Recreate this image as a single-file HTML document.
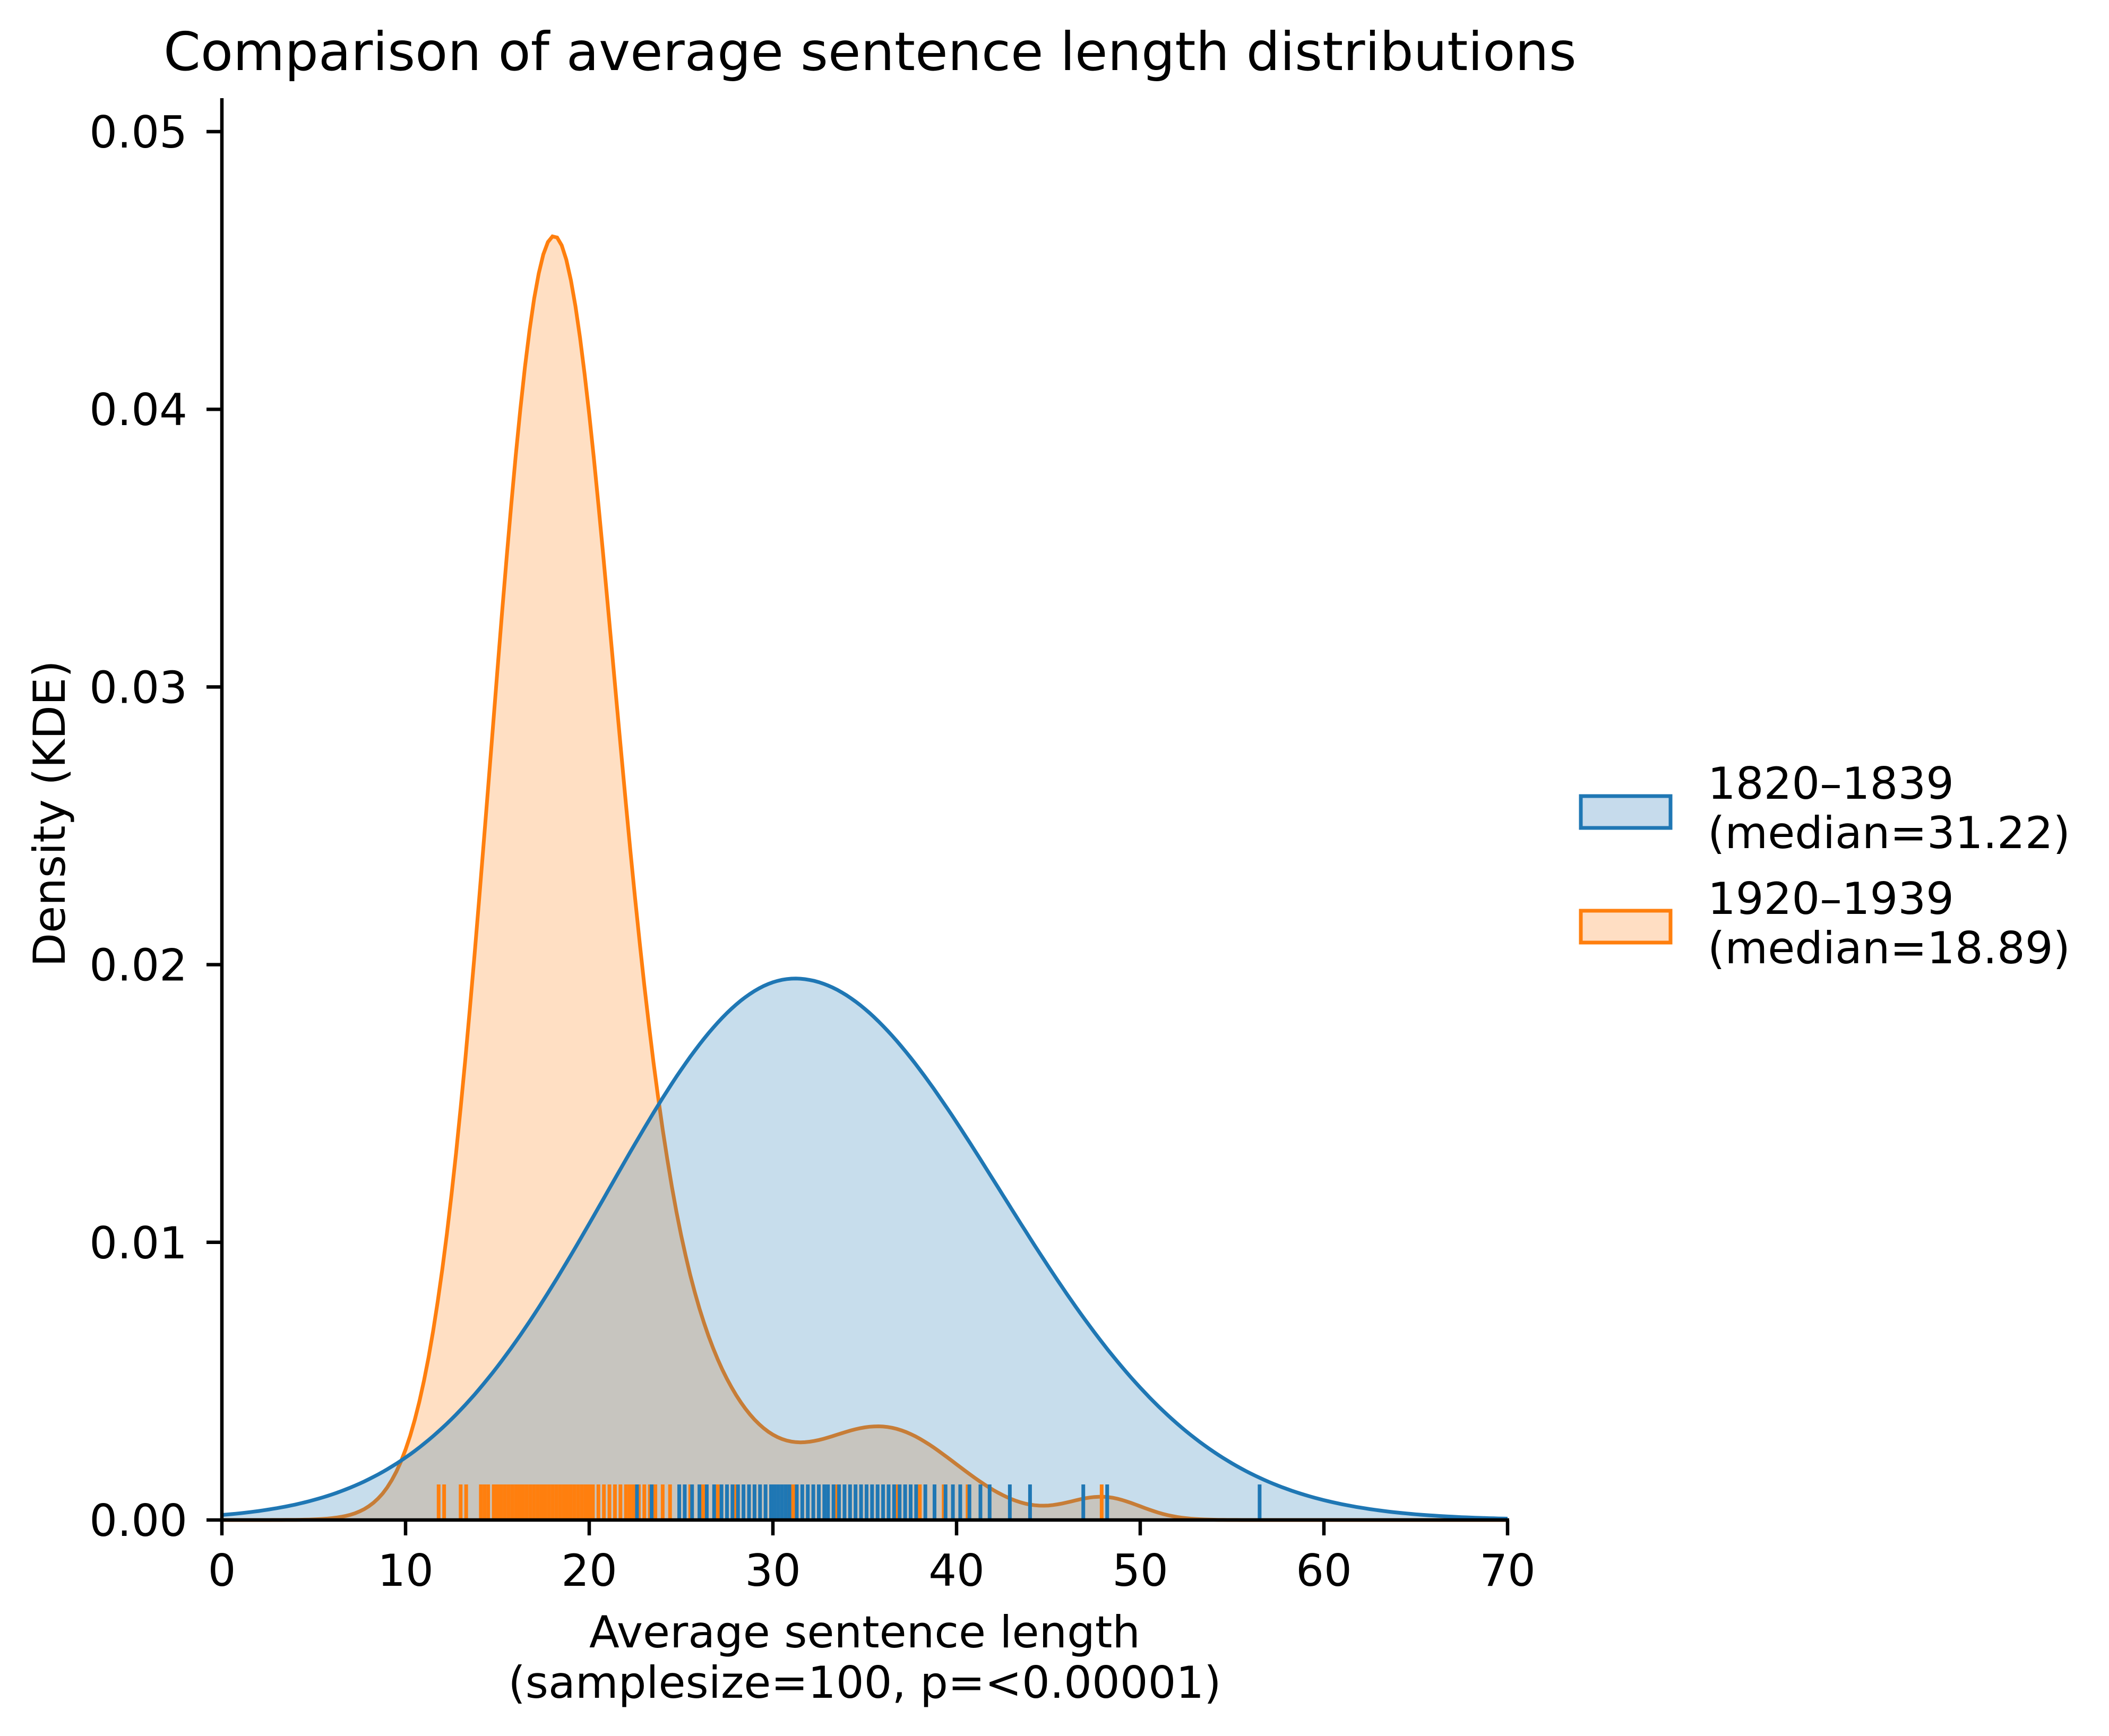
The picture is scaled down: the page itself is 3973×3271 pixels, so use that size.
<!DOCTYPE html>
<html><head><meta charset="utf-8">
<style>
html,body{margin:0;padding:0;background:#fff;}
svg{display:block;font-family:"DejaVu Sans","Liberation Sans",sans-serif;}
</style></head>
<body>
<svg id="s" width="3973" height="3271" viewBox="0 0 3973 3271" xmlns="http://www.w3.org/2000/svg">
<rect width="3973" height="3271" fill="#fff"/>
<g id="plot"></g>
<line x1="418" y1="185" x2="418" y2="2864" stroke="#000" stroke-width="6.5"/>
<line x1="415" y1="2864" x2="2843" y2="2864" stroke="#000" stroke-width="6.5"/>
<g id="ticks" stroke="#000" stroke-width="6.5"></g>
<g font-size="83" fill="#000" text-anchor="end" id="ylab"></g>
<g font-size="83" fill="#000" text-anchor="middle" id="xlab"></g>
<text x="1629" y="3104" font-size="83" text-anchor="middle">Average sentence length</text>
<text x="1629" y="3199" font-size="83" text-anchor="middle">(samplesize=100, p=&lt;0.00001)</text>
<text transform="translate(122,1533) rotate(-90)" font-size="83" text-anchor="middle">Density (KDE)</text>
<text x="308" y="132" font-size="100">Comparison of average sentence length distributions</text>
<rect x="2978" y="1500" width="169" height="60" fill="#c6dbec" stroke="#1f77b4" stroke-width="7"/>
<rect x="2978" y="1716" width="169" height="60" fill="#ffdec3" stroke="#ff7f0e" stroke-width="7"/>
<text x="3217" y="1505" font-size="83">1820–1839</text>
<text x="3217" y="1598" font-size="83">(median=31.22)</text>
<text x="3217" y="1722" font-size="83">1920–1939</text>
<text x="3217" y="1815" font-size="83">(median=18.89)</text>
</svg>
<script>
var X0=418,SX=34.6,Y0=2864,SY=52320;
function px(x){return X0+x*SX;} function py(y){return Y0-y*SY;}
function g(x,m,s){return Math.exp(-(x-m)*(x-m)/(2*s*s));}
function blue(x){var s=x<31.2?10.2:11.2;return 0.0195*g(x,31.2,s);}
function orange(x){return 0.0443*g(x,17.9,3.3)+0.006*g(x,24,4)+0.0033*g(x,36,4)+0.0008*g(x,48,2);}
function path(f){var d="M"+px(0)+","+Y0;for(var x=0;x<=70.001;x+=0.25){d+=" L"+px(x).toFixed(1)+","+py(f(x)).toFixed(1);}return d;}
function line(f){var d="";for(var x=0;x<=70.001;x+=0.25){d+=(d?" L":"M")+px(x).toFixed(1)+","+py(f(x)).toFixed(1);}return d;}
var ns="http://www.w3.org/2000/svg";
function add(par,tag,at){var e=document.createElementNS(ns,tag);for(var k in at)e.setAttribute(k,at[k]);par.appendChild(e);return e;}
var P=document.getElementById("plot");
add(P,"path",{d:path(orange)+" L"+px(70)+","+Y0+" Z",fill:"#ff7f0e","fill-opacity":"0.25"});
add(P,"path",{d:line(orange),fill:"none",stroke:"#ff7f0e","stroke-width":"7"});
add(P,"path",{d:path(blue)+" L"+px(70)+","+Y0+" Z",fill:"#1f77b4","fill-opacity":"0.25"});
add(P,"path",{d:line(blue),fill:"none",stroke:"#1f77b4","stroke-width":"7"});
var ro=[11.8,12.1,13.0,13.3,14.1,14.3,14.5,14.8,15.0,15.2,15.4,15.6,15.8,16.0,16.2,16.4,16.6,16.8,17.0,17.2,17.4,17.6,17.8,18.0,18.2,18.4,18.6,18.8,19.0,19.2,19.4,19.6,19.8,20.0,20.2,20.5,20.8,21.1,21.4,21.7,22.0,22.2,22.4,22.7,23.0,23.3,23.6,24.0,24.4,24.9,25.5,26.2,27.0,28.0,29.0,30.8,31.1,33.5,36.8,38.0,39.3,40.6,47.9];
var rb=[22.6,23.4,24.9,25.2,25.6,26.0,26.4,26.8,27.2,27.5,27.8,28.1,28.4,28.7,29.0,29.3,29.6,29.9,30.1,30.3,30.5,30.7,30.9,31.3,31.6,31.9,32.2,32.5,32.8,33.0,33.3,33.6,33.9,34.2,34.5,34.8,35.1,35.4,35.7,36.0,36.3,36.6,36.9,37.2,37.5,37.8,38.3,38.8,39.4,39.8,40.2,40.7,41.3,41.8,42.9,44.0,46.9,48.2,56.5];
ro.forEach(function(v){add(P,"line",{x1:px(v),x2:px(v),y1:2861,y2:2797,stroke:"#ff7f0e","stroke-width":"7"});});
rb.forEach(function(v){add(P,"line",{x1:px(v),x2:px(v),y1:2861,y2:2797,stroke:"#1f77b4","stroke-width":"7"});});
var T=document.getElementById("ticks"),YL=document.getElementById("ylab"),XL=document.getElementById("xlab");
for(var i=0;i<=5;i++){var y=py(i*0.01);add(T,"line",{x1:389,x2:418,y1:y,y2:y});var t=add(YL,"text",{x:353,y:y+30});t.textContent=(i*0.01).toFixed(2);}
for(var i=0;i<=7;i++){var x=px(i*10);add(T,"line",{x1:x,x2:x,y1:2864,y2:2893});var t=add(XL,"text",{x:x,y:2988});t.textContent=String(i*10);}
</script>
</body></html>
